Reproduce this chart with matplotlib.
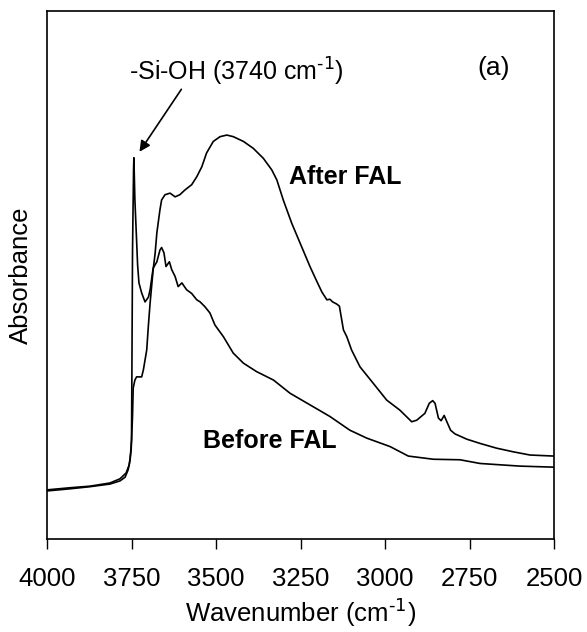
import matplotlib
matplotlib.use("Agg")
import matplotlib.pyplot as plt

plt.rcParams['font.family'] = ['Liberation Sans', 'DejaVu Sans']
plt.rcParams['mathtext.default'] = 'regular'

# Before FAL spectrum (wavenumber in cm-1, absorbance in arbitrary units)
before_wn = [4000, 3932, 3873, 3814, 3784, 3769, 3760, 3754, 3750, 3749,
             3747, 3744, 3743, 3740, 3735, 3732, 3728, 3720, 3710, 3700,
             3695, 3686, 3675, 3666, 3661, 3654, 3648, 3638, 3631, 3621,
             3612, 3601, 3587, 3572, 3557, 3547, 3533, 3518, 3503, 3478,
             3449, 3419, 3380, 3330, 3281, 3222, 3163, 3104, 3054, 2985,
             2931, 2857, 2778, 2719, 2601, 2500]
before_abs = [0.091, 0.095, 0.099, 0.104, 0.110, 0.117, 0.131, 0.150, 0.188, 0.301,
              0.547, 0.699, 0.722, 0.642, 0.566, 0.519, 0.485, 0.466, 0.449, 0.458,
              0.472, 0.513, 0.525, 0.547, 0.552, 0.542, 0.516, 0.525, 0.510, 0.497,
              0.478, 0.485, 0.472, 0.465, 0.453, 0.449, 0.440, 0.428, 0.405, 0.383,
              0.352, 0.333, 0.317, 0.301, 0.276, 0.254, 0.232, 0.206, 0.191, 0.175,
              0.157, 0.151, 0.150, 0.143, 0.138, 0.136]

# After FAL spectrum
after_wn = [4000, 3932, 3873, 3814, 3784, 3766, 3757, 3751, 3747, 3745,
            3740, 3735, 3720, 3715, 3705, 3700, 3695, 3686, 3680, 3675,
            3666, 3661, 3651, 3636, 3621, 3607, 3592, 3572, 3557, 3542,
            3528, 3508, 3488, 3468, 3449, 3419, 3390, 3360, 3335, 3320,
            3301, 3276, 3251, 3222, 3204, 3187, 3172, 3163, 3155, 3143,
            3135, 3123, 3113, 3099, 3074, 3035, 2995, 2956, 2921, 2906,
            2882, 2869, 2859, 2852, 2842, 2834, 2825, 2817, 2806, 2793,
            2758, 2719, 2670, 2620, 2571, 2500]
after_abs = [0.093, 0.097, 0.100, 0.106, 0.114, 0.125, 0.140, 0.169, 0.233, 0.286,
             0.301, 0.307, 0.307, 0.320, 0.358, 0.405, 0.447, 0.510, 0.542, 0.580,
             0.623, 0.642, 0.652, 0.655, 0.648, 0.652, 0.661, 0.671, 0.686, 0.705,
             0.731, 0.753, 0.762, 0.765, 0.762, 0.753, 0.740, 0.721, 0.699, 0.680,
             0.642, 0.598, 0.560, 0.516, 0.491, 0.468, 0.453, 0.454, 0.449, 0.445,
             0.441, 0.396, 0.383, 0.358, 0.326, 0.295, 0.263, 0.244, 0.222, 0.225,
             0.238, 0.257, 0.262, 0.257, 0.229, 0.224, 0.234, 0.222, 0.206, 0.199,
             0.189, 0.181, 0.172, 0.165, 0.159, 0.157]

fig = plt.figure(figsize=(5.87, 6.32), dpi=100)
ax = fig.add_axes([0.0801, 0.1472, 0.8637, 0.8354])

ax.plot(before_wn, before_abs, color='black', lw=1.2)
ax.plot(after_wn, after_abs, color='black', lw=1.2)

ax.set_xlim(4000, 2500)
ax.set_ylim(0, 1)
ax.set_xticks([4000, 3750, 3500, 3250, 3000, 2750, 2500])
ax.set_yticks([])
ax.tick_params(axis='x', direction='out', length=7, width=1, labelsize=18.5, pad=13)
for s in ax.spines.values():
    s.set_linewidth(1.2)

ax.set_xlabel(r'Wavenumber (cm$^{\text{-1}}$)', fontsize=18.5, labelpad=4)
ax.set_ylabel('Absorbance', fontsize=18.5, labelpad=10)

# labels
ax.text(3441, 0.884, r'-Si-OH (3740 cm$^{\text{-1}}$)', fontsize=18, ha='center', va='center')
ax.annotate('', xy=(3731, 0.729), xytext=(3598, 0.856),
            arrowprops=dict(arrowstyle='-|>', color='black', lw=1.2, mutation_scale=16))
ax.text(2680, 0.892, '(a)', fontsize=19, ha='center', va='center')
ax.text(3118, 0.686, 'After FAL', fontsize=18, fontweight='bold', ha='center', va='center')
ax.text(3340, 0.186, 'Before FAL', fontsize=18, fontweight='bold', ha='center', va='center')

fig.savefig('out.png', dpi=100)
